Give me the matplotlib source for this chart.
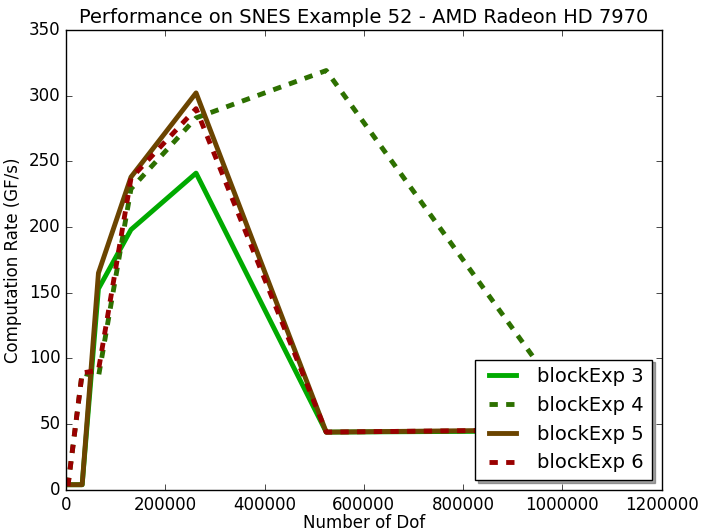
import matplotlib
matplotlib.use('Agg')
import matplotlib.pyplot as plt

# Data
dof = [4096, 32768, 65536, 131072, 262144, 524288, 1048576]
block_exp3 = [4, 4, 153, 198, 241, 44, 45]
block_exp4 = [3, 89, 86, 229, 283, 319, 45]
block_exp5 = [4, 4, 165, 238, 302, 44, 46]
block_exp6 = [3, 89, 91, 237, 290, 44, 46]

plt.style.use('classic')
plt.rcParams['figure.facecolor'] = 'white'
plt.rcParams['savefig.facecolor'] = 'white'
plt.rcParams['lines.scale_dashes'] = False

fig = plt.figure(figsize=(7.01, 5.32), dpi=100)
ax = fig.add_axes([0.094, 0.079, 0.85, 0.865])

dash = (6, 6)
ax.plot(dof, block_exp3, color='#00aa00', lw=3.5, label='blockExp 3')
ax.plot(dof, block_exp4, color='#2d7000', lw=3.5, dashes=dash, label='blockExp 4')
ax.plot(dof, block_exp5, color='#6b4400', lw=3.5, label='blockExp 5')
ax.plot(dof, block_exp6, color='#990000', lw=3.5, dashes=dash, label='blockExp 6')

ax.set_xlim(0, 1200000)
ax.set_ylim(0, 350)
ax.set_xticks(range(0, 1200001, 200000))
ax.set_yticks(range(0, 351, 50))
ax.tick_params(labelsize=12)

ax.set_title('Performance on SNES Example 52 - AMD Radeon HD 7970', fontsize=14)
ax.set_xlabel('Number of Dof', fontsize=12, labelpad=0)
ax.set_ylabel('Computation Rate (GF/s)', fontsize=12)

ax.legend(loc='lower right', shadow=True, fontsize=14, fancybox=False)

fig.savefig('out.png', dpi=100)
